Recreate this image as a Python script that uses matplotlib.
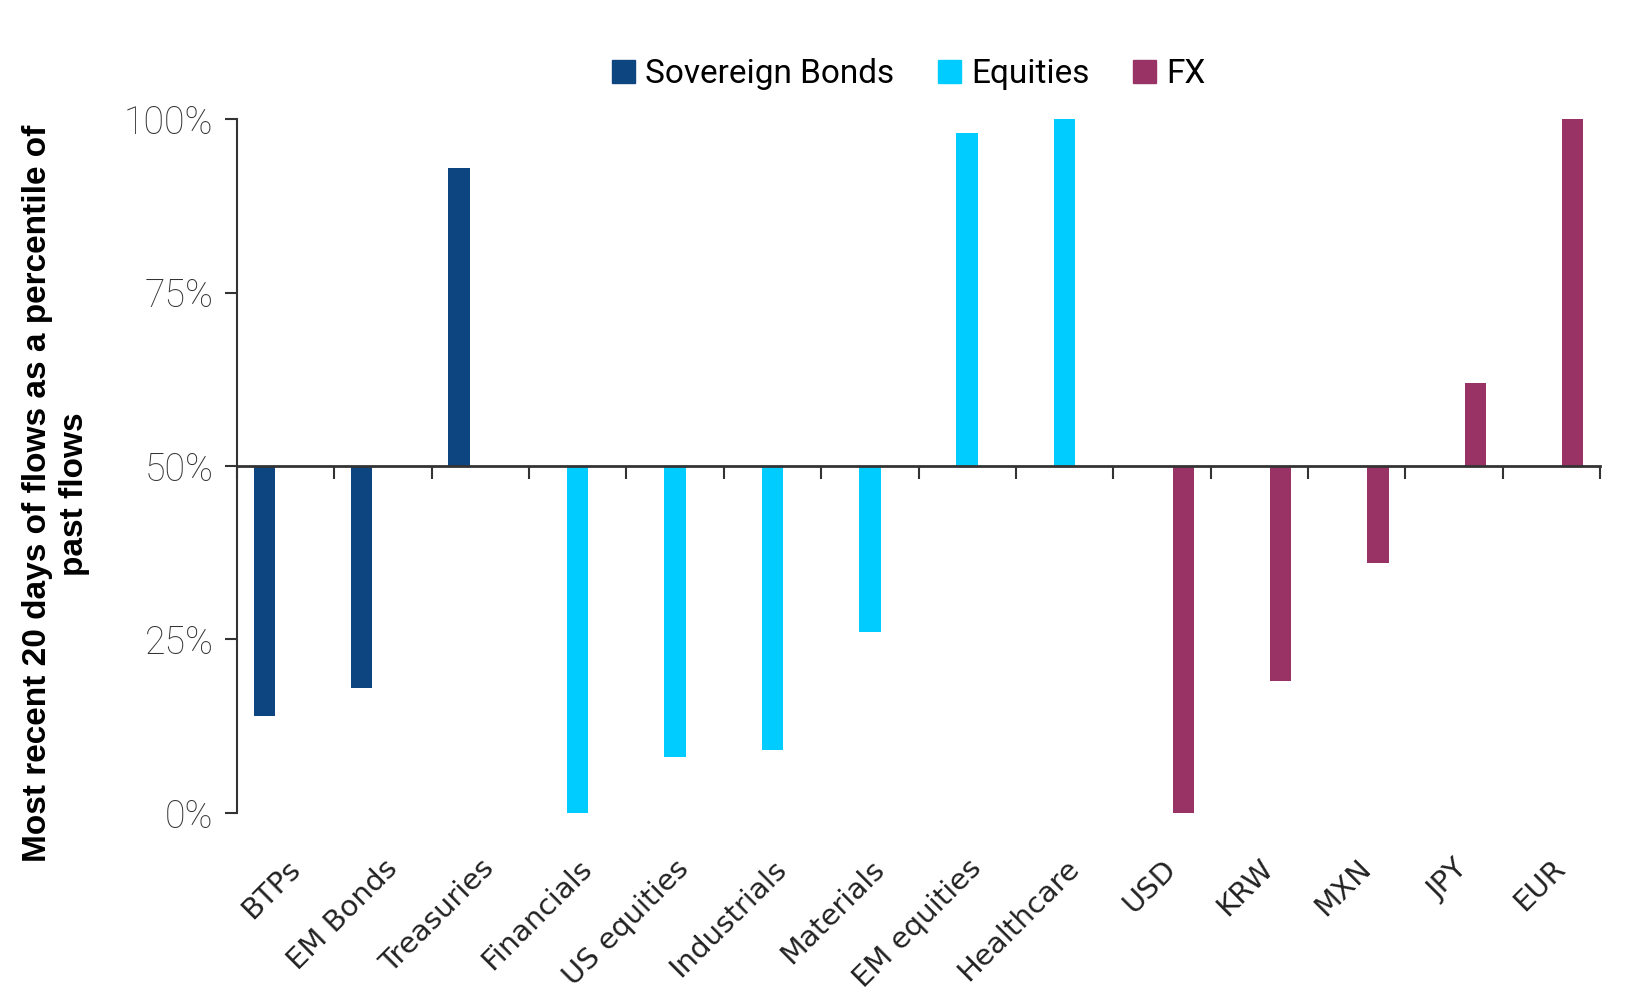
import matplotlib.pyplot as plt
import matplotlib.patches as mpatches
import numpy as np

categories = ['BTPs', 'EM Bonds', 'Treasuries', 'Financials', 'US equities',
              'Industrials', 'Materials', 'EM equities', 'Healthcare',
              'USD', 'KRW', 'MXN', 'JPY', 'EUR']
groups = ['Sovereign Bonds', 'Equities', 'FX']
group_of = [0, 0, 0, 1, 1, 1, 1, 1, 1, 2, 2, 2, 2, 2]
values = [0.14, 0.18, 0.93, 0.00, 0.08, 0.09, 0.26, 0.98, 1.00,
          0.00, 0.19, 0.36, 0.62, 1.00]
colors = ['#0D4580', '#00CCFF', '#993366']
y_ticks = [0, 0.25, 0.5, 0.75, 1.0]
y_tick_labels = ['0%', '25%', '50%', '75%', '100%']

fig = plt.figure(figsize=(16.52, 10.01), dpi=100)
ax = fig.add_axes([0.1435, 0.188, 0.825, 0.693])

x = np.arange(len(categories))
w = 0.22
for g, name in enumerate(groups):
    xs = [x[i] + (g - 1) * w for i in range(len(categories)) if group_of[i] == g]
    vs = [values[i] for i in range(len(categories)) if group_of[i] == g]
    ax.bar(xs, np.array(vs) - 0.5, bottom=0.5, width=w, color=colors[g],
           label=name, zorder=2)

ax.set_xlim(-0.5, len(categories) - 0.5)
ax.set_ylim(0, 1)

for s in ['top', 'right']:
    ax.spines[s].set_visible(False)
ax.spines['bottom'].set_position(('data', 0.5))
ax.spines['bottom'].set_linewidth(2)
ax.spines['bottom'].set_color('#333333')
ax.spines['bottom'].set_zorder(3)
ax.spines['left'].set_linewidth(1.5)
ax.spines['left'].set_color('#333333')

ax.set_xticks(np.arange(-0.5, len(categories)))
ax.set_xticklabels([])
ax.tick_params(axis='x', direction='out', length=9, width=1.5, color='#333333')

ax.set_yticks(y_ticks)
ax.set_yticklabels(y_tick_labels, fontfamily='Roboto', fontweight='light',
                   fontsize=27, color='#333333')
ax.tick_params(axis='y', direction='out', length=9, width=1.5, color='#333333', pad=8)

for i, c in enumerate(categories):
    ax.text(i + 0.0, -0.06, c, rotation=45, ha='right', va='top',
            rotation_mode='anchor', fontsize=21, color='#222222',
            fontfamily='DejaVu Sans')

ax.set_ylabel('Most recent 20 days of flows as a percentile of\npast flows',
              fontsize=24, fontweight='bold', fontfamily='Liberation Sans',
              linespacing=1.25)
ax.yaxis.set_label_coords(-0.108, 0.46)

handles = [mpatches.Patch(color=colors[g], label=groups[g]) for g in range(3)]
fig.legend(handles=handles, loc='center', bbox_to_anchor=(0.55, 0.926), ncol=3,
           frameon=False, handlelength=0.7, handleheight=0.7, handletextpad=0.3,
           columnspacing=1.3, prop={'family': 'Roboto', 'size': 24})

fig.savefig('out.png', dpi=100)
